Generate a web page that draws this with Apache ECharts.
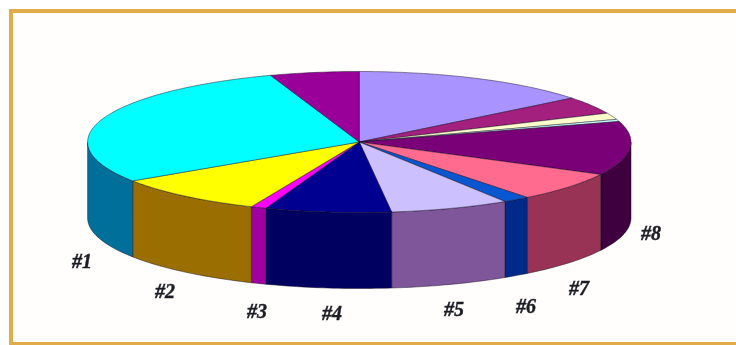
<!DOCTYPE html>
<html>
<head>
<meta charset="utf-8">
<style>html,body{margin:0;padding:0;background:#fff}#chart{width:736px;height:345px}</style>
<script src="https://cdn.jsdelivr.net/npm/echarts@6/dist/echarts.min.js"></script>
</head>
<body>
<div id="chart"></div>
<script>
// Slice shares in percent, clockwise from twelve o'clock.
const sliceNames = ['', '', '', '', '#8', '#7', '#6', '#5', '#4', '#3', '#2', '#1', ''];
const sliceValues = [14.3, 4.0, 1.5, 0.5, 12.3, 6.8, 1.6, 7.1, 7.5, 0.9, 9.2, 29.0, 5.3];
const topColors = ['#A993FF', '#A3207F', '#FFFFCC', '#CCFFFF', '#7A0078', '#FF6A8F', '#0A55D0',
  '#CCC0FF', '#000090', '#FF00FF', '#FFFF00', '#00FFFF', '#990099'];
const wallColors = ['#66589A', '#62134C', '#99997A', '#7A9999', '#3F003F', '#993355', '#002A8A',
  '#7F5699', '#000060', '#A000A0', '#9A6E00', '#00709A', '#5C005C'];

// Projected disc: ellipse centre, radii and wall height.
const cx = 359.3, cy = 142, rx = 271.7, ry = 70.5, depth = 76;

const total = sliceValues.reduce((a, b) => a + b, 0);
const starts = [];
sliceValues.reduce((sum, v, i) => { starts[i] = sum; return sum + v; }, 0);

const toAngle = share => share / total * 2 * Math.PI;
const rim = (a, drop) => [cx + rx * Math.sin(a), cy - ry * Math.cos(a) + drop];

function arcPoints(a0, a1, drop) {
  const n = Math.max(2, Math.ceil((a1 - a0) / 0.02));
  const pts = [];
  for (let i = 0; i <= n; i++) pts.push(rim(a0 + (a1 - a0) * i / n, drop));
  return pts;
}

const edge = { stroke: 'rgba(20,10,30,0.65)', lineWidth: 0.7 };

// Top face of each slice.
function renderTop(params, api) {
  const i = params.dataIndex;
  const a0 = toAngle(starts[i]);
  const a1 = toAngle(starts[i] + api.value(0));
  return {
    type: 'polygon',
    shape: { points: [[cx, cy]].concat(arcPoints(a0, a1, 0)) },
    style: Object.assign({ fill: topColors[i] }, edge)
  };
}

// Outer wall, only where the rim faces the viewer.
function renderWall(params, api) {
  const i = params.dataIndex;
  const a0 = Math.max(toAngle(starts[i]), Math.PI / 2);
  const a1 = Math.min(toAngle(starts[i] + api.value(0)), Math.PI * 1.5);
  if (a1 <= a0) return null;
  return {
    type: 'polygon',
    shape: { points: arcPoints(a0, a1, 0).concat(arcPoints(a0, a1, depth).reverse()) },
    style: Object.assign({ fill: wallColors[i] }, edge)
  };
}

const labelSpots = { '#1': [82, 263], '#2': [165, 293], '#3': [257, 313], '#4': [332, 315],
  '#5': [454, 311], '#6': [526, 308], '#7': [579, 290], '#8': [651, 235] };

const chart = echarts.init(document.getElementById('chart'), null, { renderer: 'canvas' });
chart.setOption({
  animation: false,
  backgroundColor: '#fff',
  graphic: [
    { type: 'rect', z: 0, shape: { x: 11, y: 11, width: 740, height: 333 },
      style: { fill: '#FFFEFC', stroke: '#E2AC48', lineWidth: 4 } }
  ].concat(sliceNames.filter(Boolean).map(name => ({
    type: 'text', z: 10, x: labelSpots[name][0], y: labelSpots[name][1],
    style: { text: name, fill: '#1c1c24', stroke: '#1c1c24', lineWidth: 0.4, align: 'center', verticalAlign: 'middle',
      font: 'italic bold 20px "Liberation Serif"' }
  }))),
  series: [
    { type: 'custom', coordinateSystem: 'none', z: 2, renderItem: renderWall, data: sliceValues.map(v => [v]), silent: true },
    { type: 'custom', coordinateSystem: 'none', z: 3, renderItem: renderTop, data: sliceValues.map(v => [v]), silent: true }
  ]
});
</script>
</body>
</html>
